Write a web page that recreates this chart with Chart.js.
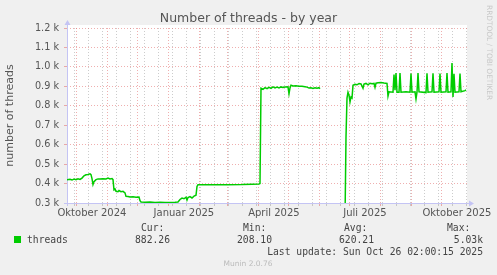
<!DOCTYPE html>
<html lang="de">
<head>
<meta charset="UTF-8">
<title>Number of threads - by year</title>
<script src="https://cdn.jsdelivr.net/npm/chart.js"></script>
<style>
    body { margin: 0; background: #f0f0f0; }
    canvas { display: block; }
</style>
</head>
<body>
<canvas id="threadsChart" width="497" height="275"></canvas>

<script>
    // days since the start of the graph (Sat 21 Sep 2024, 02:00), 400 days wide
    const days = [
        0, 3, 5, 7, 9, 11, 13, 15, 17, 19, 21, 23, 24, 25, 26, 27, 29, 31, 33, 36,
        39, 41, 43, 45, 46, 47, 48, 49, 51, 52, 54, 56, 58, 59, 61, 63, 66, 69, 72, 73,
        74, 78, 83, 88, 93, 98, 103, 108, 111, 113, 115, 117, 119, 120, 121, 123, 125, 127, 129, 130,
        131, 140, 150, 160, 175, 185, 192, 193,
        194, 196, 198, 200, 202, 204, 206, 208, 210, 212, 214, 216, 218, 221, 222, 223, 224, 226, 229, 232,
        235, 238, 240, 242, 244, 246, 248, 250, 252, 253, 254,
        278, 279, 280, 281, 282, 283, 284, 285, 286, 288, 290, 292, 294, 296, 297, 299, 301, 303, 305, 307,
        308, 309, 311, 314, 317, 320, 321, 322, 326, 327, 328, 329, 330, 332, 333, 334, 339, 343, 344, 345,
        348, 349, 350, 351, 352, 359, 360, 361, 365, 366, 367, 372, 373, 374, 379, 380, 381, 384, 385, 386,
        387, 388, 392, 393, 394, 398, 399
    ];
    const threads = [
        420, 422, 418, 423, 420, 424, 421, 428, 440, 445, 447, 450, 446, 425, 395, 410, 420, 424, 423, 425,
        424, 428, 424, 426, 420, 368, 372, 360, 358, 364, 358, 360, 352, 334, 333, 331, 332, 330, 331, 312,
        305, 304, 305, 303, 304, 303, 303, 304, 305, 318, 325, 322, 330, 315, 328, 333, 326, 335, 340, 385,
        394, 394, 394, 394, 395, 397, 398, 400,
        890, 885, 893, 888, 895, 890, 897, 892, 896, 892, 897, 894, 896, 897, 862, 892, 906, 902, 903, 901,
        900, 898, 896, 891, 893, 889, 893, 890, 893, 888, null,
        208, 640, 840, 870, 855, 820, 845, 840, 905, 910, 908, 914, 912, 890, 912, 915, 908, 916, 913, 915,
        895, 916, 918, 920, 917, 915, 850, 872, 870, 960, 880, 968, 870, 870, 968, 870, 872, 870, 966, 870,
        872, 835, 870, 968, 872, 868, 967, 870, 872, 967, 870, 872, 966, 870, 872, 968, 870, 872, 1020, 845,
        965, 870, 872, 966, 872, 878, 882
    ];
    const yTicks = [300, 400, 500, 600, 700, 800, 900, 1000, 1100, 1200];
    const monthLabels = { 9: 'Oktober', 0: 'Januar', 3: 'April', 6: 'Juli' };

    const legendHeaders = ['Cur:', 'Min:', 'Avg:', 'Max:'];
    const legendValues = ['882.26', '208.10', '620.21', '5.03k'];
    const lastUpdate = 'Last update: Sun Oct 26 02:00:15 2025';

    const startMs = Date.UTC(2024, 8, 21, 2, 0);
    const DAY = 86400000;
    const toDay = ms => (ms - startMs) / DAY;

    // grid: red line at each month start, grey line every second Sunday
    function buildXTicks() {
        const ticks = [];
        for (let y = 2024, m = 9; toDay(Date.UTC(y, m, 1)) < 400; m++) {
            if (m > 11) { m = 0; y++; }
            const d = toDay(Date.UTC(y, m, 1));
            if (d >= 400) break;
            ticks.push({ value: d, kind: 'major' });
            if (monthLabels[m] !== undefined) {
                ticks.push({ value: d + 15, kind: 'label', text: monthLabels[m] + ' ' + y });
            }
        }
        for (let ms = Date.UTC(2024, 8, 29); toDay(ms) < 400; ms += 14 * DAY) {
            ticks.push({ value: toDay(ms), kind: 'minor' });
        }
        return ticks.sort((a, b) => a.value - b.value);
    }

    const gridColor = c => {
        const k = c.tick && c.tick.kind;
        if (k === 'major') return 'rgba(225, 110, 110, 0.55)';
        if (k === 'minor') return 'rgba(170, 170, 170, 0.6)';
        return 'rgba(0,0,0,0)';
    };

    const muninPlugin = {
        id: 'munin',
        beforeDraw(chart) {
            const { ctx, chartArea: a } = chart;
            ctx.save();
            ctx.fillStyle = '#f0f0f0';
            ctx.fillRect(0, 0, chart.width, chart.height);
            ctx.fillStyle = '#ffffff';
            ctx.fillRect(a.left, a.top - 3, a.right - a.left, a.bottom - a.top + 3);
            ctx.restore();
        },
        beforeDatasetsDraw(chart) {
            const { ctx, chartArea: a } = chart;
            ctx.save();
            ctx.strokeStyle = '#c4c4f4';
            ctx.fillStyle = '#c4c4f4';
            ctx.lineWidth = 1;
            ctx.beginPath();
            ctx.moveTo(a.left + 0.5, a.bottom + 3);
            ctx.lineTo(a.left + 0.5, a.top - 4);
            ctx.moveTo(a.left - 3, a.bottom + 0.5);
            ctx.lineTo(a.right + 3, a.bottom + 0.5);
            ctx.stroke();
            ctx.beginPath();
            ctx.moveTo(a.left + 0.5, a.top - 8);
            ctx.lineTo(a.left - 2.5, a.top - 3);
            ctx.lineTo(a.left + 3.5, a.top - 3);
            ctx.closePath();
            ctx.moveTo(a.right + 7, a.bottom + 0.5);
            ctx.lineTo(a.right + 2, a.bottom - 2.5);
            ctx.lineTo(a.right + 2, a.bottom + 3.5);
            ctx.closePath();
            ctx.fill();
            ctx.restore();
        },
        afterDraw(chart) {
            const ctx = chart.ctx;
            ctx.save();
            ctx.textBaseline = 'middle';

            ctx.fillStyle = '#555';
            ctx.font = '12.5px "DejaVu Sans"';
            ctx.textAlign = 'center';
            ctx.fillText('Number of threads - by year', 248.5, 19);

            ctx.fillStyle = '#00cc00';
            ctx.fillRect(14, 236, 7, 7);

            ctx.fillStyle = '#444';
            ctx.font = '9.7px "DejaVu Sans Mono"';
            ctx.textAlign = 'left';
            ctx.fillText('threads', 27, 240);
            const headX = [141, 243, 344, 447];
            const valX = [170, 272, 374, 483];
            legendHeaders.forEach((h, i) => ctx.fillText(h, headX[i], 228));
            ctx.textAlign = 'right';
            legendValues.forEach((v, i) => ctx.fillText(v, valX[i], 240));
            ctx.fillText(lastUpdate, 483, 252);

            ctx.fillStyle = '#bbb';
            ctx.font = '7.5px "DejaVu Sans"';
            ctx.textAlign = 'center';
            ctx.fillText('Munin 2.0.76', 248, 264.5);

            ctx.fillStyle = '#c8c8c8';
            ctx.font = '7.4px "DejaVu Sans"';
            ctx.textAlign = 'left';
            ctx.translate(488.5, 5);
            ctx.rotate(Math.PI / 2);
            ctx.fillText('RRDTOOL / TOBI OETIKER', 0, 0);
            ctx.restore();
        }
    };

    Chart.defaults.font.family = '"DejaVu Sans"';
    Chart.defaults.color = '#555';

    const ctx = document.getElementById('threadsChart').getContext('2d');
    new Chart(ctx, {
        type: 'line',
        data: {
            datasets: [{
                label: 'threads',
                data: days.map((d, i) => ({ x: d, y: threads[i] })),
                borderColor: '#00cc00',
                borderWidth: 1.5,
                pointRadius: 0,
                tension: 0,
                spanGaps: false
            }]
        },
        options: {
            responsive: false,
            animation: false,
            layout: { padding: { top: 28, right: 30, bottom: 52, left: 0 } },
            plugins: { legend: { display: false }, tooltip: { enabled: false } },
            scales: {
                x: {
                    type: 'linear',
                    min: 0,
                    max: 400,
                    afterFit: s => { s.height = 20; },
                    afterBuildTicks: s => { s.ticks = buildXTicks(); },
                    border: { display: false, dash: [1, 2] },
                    grid: { color: gridColor, tickColor: gridColor, tickLength: 3 },
                    ticks: {
                        autoSkip: false,
                        maxRotation: 0,
                        padding: 1,
                        font: { size: 10 },
                        callback: function (value, index, ticks) {
                            return ticks[index].kind === 'label' ? ticks[index].text : '';
                        }
                    }
                },
                y: {
                    min: 300,
                    max: 1200,
                    afterFit: s => { s.width = 67; },
                    afterBuildTicks: s => { s.ticks = yTicks.map(v => ({ value: v })); },
                    border: { display: false, dash: [1, 2] },
                    grid: { color: 'rgba(225, 110, 110, 0.55)', tickLength: 3 },
                    ticks: {
                        padding: 5,
                        font: { size: 9.7 },
                        callback: v => (v / 1000).toFixed(1) + ' k'
                    },
                    title: {
                        display: true,
                        text: 'number of threads',
                        font: { size: 11 },
                        padding: { top: 4, bottom: 0 }
                    }
                }
            }
        },
        plugins: [muninPlugin]
    });
</script>
</body>
</html>
